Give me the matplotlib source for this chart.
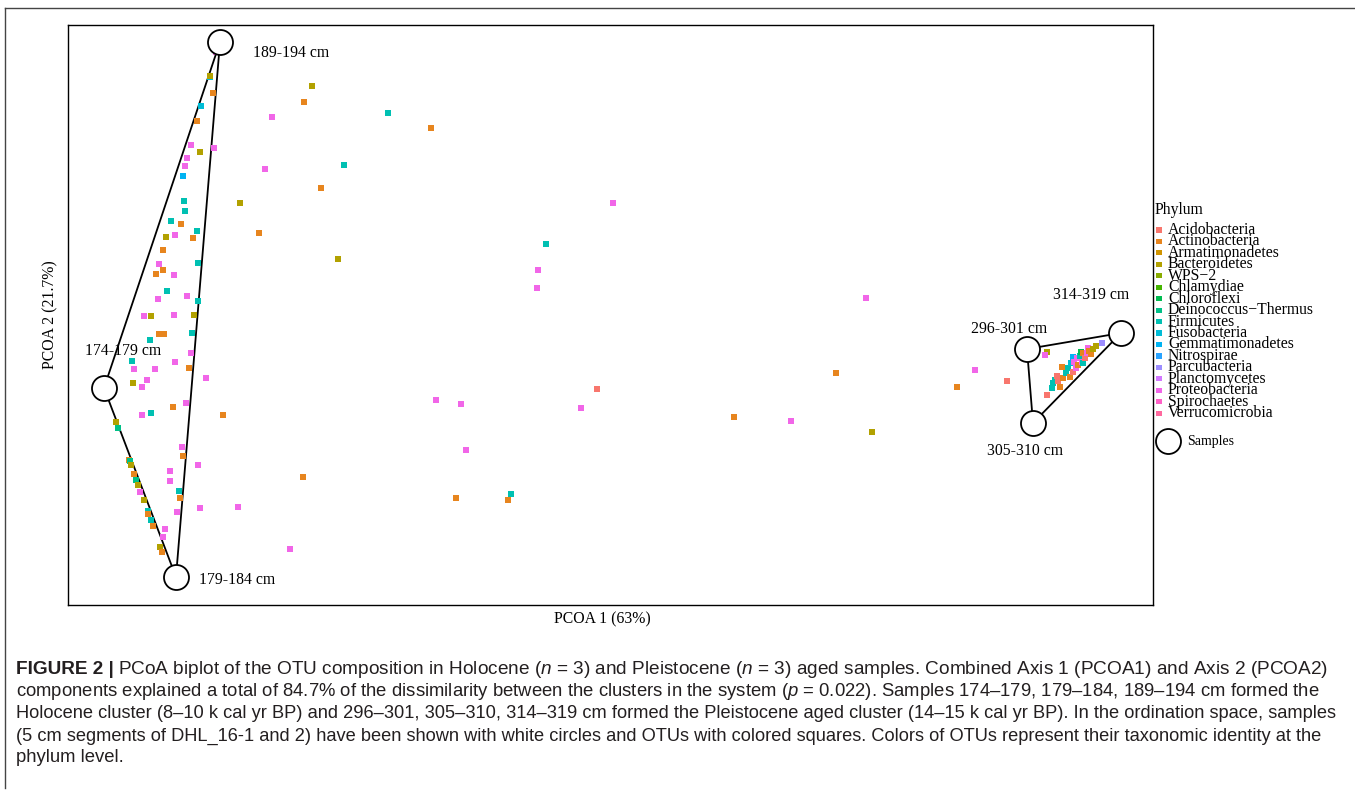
import numpy as np
import matplotlib
matplotlib.use("Agg")
import matplotlib.pyplot as plt
from matplotlib import font_manager
from matplotlib.lines import Line2D

# ---- data (positions, plot pixel units) ----
phyla = ["Acidobacteria", "Actinobacteria", "Armatimonadetes", "Bacteroidetes",
         "WPS\u22122", "Chlamydiae", "Chloroflexi", "Deinococcus\u2212Thermus",
         "Firmicutes", "Fusobacteria", "Gemmatimonadetes", "Nitrospirae",
         "Parcubacteria", "Planctomycetes", "Proteobacteria", "Spirochaetes",
         "Verrucomicrobia"]

otu_x = [210, 216, 210, 213, 201, 197, 191, 214, 200, 187, 185, 183, 184, 185, 171, 181,
         197, 166, 175, 193, 163, 198, 159, 163, 156, 174, 167, 158, 187, 198, 144, 151,
         174, 194, 159, 164, 192, 150, 191, 132, 175, 134, 155, 189, 206, 147, 133, 142,
         186, 173, 151, 142, 223, 116, 118, 182, 183, 198, 129, 130, 131, 134, 136, 138,
         170, 170, 140, 179, 180, 144, 303, 238, 200, 148, 148, 177, 151, 153, 165, 163,
         160, 162, 290,
         312, 304, 272, 344, 265, 321, 240, 259, 338, 388, 431, 613, 546, 538, 537, 866,
         836, 597, 436, 461, 581, 734, 791, 872, 466, 456, 511, 508,
         957, 975, 1007, 1047, 1045, 1102, 1096, 1047,
         1052, 1053, 1055, 1057, 1058, 1060, 1062, 1063, 1066, 1068, 1070, 1071, 1073, 1073,
         1074, 1076, 1077, 1078, 1080, 1081, 1082, 1083, 1083, 1085, 1087, 1088, 1089, 1091,
         1093]
otu_y = [77, 52, 76, 93, 106, 121, 145, 148, 152, 158, 166, 176, 201, 211, 221, 224,
         231, 237, 235, 238, 250, 263, 264, 270, 274, 275, 291, 299, 296, 301, 316, 316,
         315, 315, 334, 334, 333, 340, 353, 361, 362, 369, 369, 368, 378, 380, 383, 387,
         403, 407, 413, 415, 415, 422, 428, 447, 456, 465, 460, 461, 465, 474, 480, 485,
         471, 481, 492, 491, 498, 500, 477, 507, 508, 511, 514, 512, 520, 526, 529, 537,
         547, 552, 549,
         86, 102, 117, 165, 169, 188, 203, 233, 259, 113, 128, 203, 244, 270, 288, 298,
         373, 389, 400, 404, 408, 417, 421, 432, 450, 498, 494, 500,
         387, 370, 381, 352, 355, 343, 346, 395,
         388, 383, 380, 376, 381, 387, 367, 378, 373, 368, 377, 363, 372, 357,
         362, 368, 358, 365, 356, 352, 362, 353, 363, 358, 353, 348, 351, 354,
         349]
otu_phylum = (
    ["Fusobacteria", "Proteobacteria", "Bacteroidetes", "Actinobacteria", "Fusobacteria",
     "Actinobacteria", "Proteobacteria", "Proteobacteria", "Bacteroidetes", "Proteobacteria",
     "Proteobacteria", "Gemmatimonadetes", "Firmicutes", "Firmicutes", "Firmicutes",
     "Actinobacteria", "Firmicutes", "Bacteroidetes", "Proteobacteria", "Actinobacteria",
     "Actinobacteria", "Firmicutes", "Proteobacteria", "Actinobacteria", "Actinobacteria",
     "Proteobacteria", "Firmicutes", "Proteobacteria", "Proteobacteria", "Firmicutes",
     "Proteobacteria", "Bacteroidetes", "Proteobacteria", "Bacteroidetes", "Actinobacteria",
     "Actinobacteria", "Firmicutes", "Firmicutes", "Proteobacteria", "Firmicutes",
     "Proteobacteria", "Proteobacteria", "Proteobacteria", "Actinobacteria", "Proteobacteria",
     "Proteobacteria", "Bacteroidetes", "Proteobacteria", "Proteobacteria", "Actinobacteria",
     "Firmicutes", "Proteobacteria", "Actinobacteria", "Bacteroidetes",
     "Deinococcus\u2212Thermus", "Proteobacteria", "Actinobacteria", "Proteobacteria",
     "Actinobacteria", "Deinococcus\u2212Thermus", "Bacteroidetes", "Actinobacteria",
     "Deinococcus\u2212Thermus", "Bacteroidetes", "Proteobacteria", "Proteobacteria",
     "Proteobacteria", "Firmicutes", "Actinobacteria", "Bacteroidetes", "Actinobacteria",
     "Proteobacteria", "Proteobacteria", "Firmicutes", "Actinobacteria", "Proteobacteria",
     "Firmicutes", "Actinobacteria", "Proteobacteria", "Proteobacteria", "Bacteroidetes",
     "Actinobacteria", "Proteobacteria"]
    + ["Bacteroidetes", "Actinobacteria", "Proteobacteria", "Firmicutes", "Proteobacteria",
       "Actinobacteria", "Bacteroidetes", "Actinobacteria", "Bacteroidetes", "Firmicutes",
       "Actinobacteria", "Proteobacteria", "Firmicutes", "Proteobacteria", "Proteobacteria",
       "Proteobacteria", "Actinobacteria", "Acidobacteria", "Proteobacteria", "Proteobacteria",
       "Proteobacteria", "Actinobacteria", "Proteobacteria", "Bacteroidetes", "Proteobacteria",
       "Actinobacteria", "Firmicutes", "Actinobacteria"]
    + ["Actinobacteria", "Proteobacteria", "Acidobacteria", "Bacteroidetes", "Proteobacteria",
       "Parcubacteria", "Bacteroidetes", "Acidobacteria"]
    + ["Firmicutes", "Firmicutes", "Firmicutes", "Acidobacteria", "Acidobacteria",
       "Actinobacteria", "Actinobacteria", "Actinobacteria", "Firmicutes", "Firmicutes",
       "Actinobacteria", "Fusobacteria", "Acidobacteria", "Gemmatimonadetes",
       "Proteobacteria", "Proteobacteria", "Proteobacteria", "Actinobacteria", "Firmicutes",
       "Chloroflexi", "Proteobacteria", "Actinobacteria", "Firmicutes", "Acidobacteria",
       "Proteobacteria", "Proteobacteria", "Actinobacteria", "Actinobacteria",
       "Bacteroidetes"]
)

sample_names = ["189-194 cm", "174-179 cm", "179-184 cm",
                "296-301 cm", "305-310 cm", "314-319 cm"]
sample_x = [220, 104, 176, 1027, 1033, 1121]
sample_y = [42, 388, 577, 349, 423, 333]
label_x = [291, 123, 237, 1009, 1025, 1091]
label_y = [53, 351, 580, 329, 451, 295]
clusters = [[0, 1, 2], [3, 4, 5]]

caption = [
    r"PCoA biplot of the OTU composition in Holocene ($n$ = 3) and Pleistocene ($n$ = 3) aged samples. Combined Axis 1 (PCOA1) and Axis 2 (PCOA2)",
    r"components explained a total of 84.7% of the dissimilarity between the clusters in the system ($p$ = 0.022). Samples 174–179, 179–184, 189–194 cm formed the",
    "Holocene cluster (8–10 k cal yr BP) and 296–301, 305–310, 314–319 cm formed the Pleistocene aged cluster (14–15 k cal yr BP). In the ordination space, samples",
    "(5 cm segments of DHL_16-1 and 2) have been shown with white circles and OTUs with colored squares. Colors of OTUs represent their taxonomic identity at the",
    "phylum level.",
]
cap_right = [1325, 1322, 1338, 1326, None]


def hue_pal(n, c=100.0, l=65.0):
    # ggplot2 default discrete palette (HCL hues)
    hues = np.linspace(15, 375, n + 1)[:-1]
    xn, yn, zn = 95.047, 100.0, 108.883
    un = 4 * xn / (xn + 15 * yn + 3 * zn)
    vn = 9 * yn / (xn + 15 * yn + 3 * zn)
    m = np.array([[3.240479, -1.537150, -0.498535],
                  [-0.969256, 1.875992, 0.041556],
                  [0.055648, -0.204043, 1.057311]])
    out = []
    for h in hues:
        u = c * np.cos(np.radians(h))
        v = c * np.sin(np.radians(h))
        Y = yn * ((l + 16) / 116) ** 3
        up = u / (13 * l) + un
        vp = v / (13 * l) + vn
        X = 9 * Y * up / (4 * vp)
        Z = -X / 3 - 5 * Y + 3 * Y / vp
        rgb = m @ (np.array([X, Y, Z]) / 100)
        rgb = np.where(rgb <= 0.0031308, 12.92 * rgb, 1.055 * np.abs(rgb) ** (1 / 2.4) - 0.055)
        out.append(tuple(np.clip(rgb, 0, 1)))
    return out


colors = dict(zip(phyla, hue_pal(len(phyla))))

names = {f.name for f in font_manager.fontManager.ttflist}
serif = "Liberation Serif"
cap_font = "Liberation Sans Narrow" if "Liberation Sans Narrow" in names else "Liberation Sans"
plt.rcParams["mathtext.fontset"] = "custom"
plt.rcParams["mathtext.rm"] = cap_font
plt.rcParams["mathtext.it"] = cap_font + ":italic"

W, H = 1355, 793
L, R, T, B = 68, 1153, 25, 605
fig = plt.figure(figsize=(W / 100, H / 100), dpi=100)

# main plot panel
ax = fig.add_axes([L / W, 1 - B / H, (R - L) / W, (B - T) / H])
ax.set_xlim(L, R)
ax.set_ylim(B, T)
ax.set_xticks([])
ax.set_yticks([])
for s in ax.spines.values():
    s.set_linewidth(1.0)
    s.set_color("black")

for grp in clusters:
    idx = grp + [grp[0]]
    ax.plot([sample_x[i] for i in idx], [sample_y[i] for i in idx],
            color="black", lw=1.3, zorder=2)

ax.scatter(otu_x, otu_y, c=[colors[p] for p in otu_phylum], marker="s",
           s=22, linewidths=0, zorder=3)

ax.plot(sample_x, sample_y, "o", ms=18, mfc="white", mec="black", mew=1.3,
        ls="none", zorder=4)
for name, lx, ly in zip(sample_names, label_x, label_y):
    ax.text(lx, ly, name, ha="center", va="center", fontsize=11.3,
            family=serif, zorder=5)

# overlay in figure pixels for labels, legend, caption and frame
ov = fig.add_axes([0, 0, 1, 1], zorder=-1)
ov.set_xlim(0, W)
ov.set_ylim(H, 0)
ov.axis("off")

ov.add_line(Line2D([5, W], [8, 8], color="#444444", lw=1.0))
ov.add_line(Line2D([5, 5], [8, 788], color="#444444", lw=1.0))

ov.text(602, 619, "PCOA 1 (63%)", ha="center", va="center", fontsize=11.3, family=serif)
ov.text(50, 315, "PCOA 2 (21.7%)", ha="center", va="center", rotation=90,
        fontsize=11.3, family=serif)

# legend
ov.text(1155, 210, "Phylum", ha="left", va="center", fontsize=11.3, family=serif)
leg_y = 230 + 11.45 * np.arange(len(phyla))
ov.scatter([1159] * len(phyla), leg_y, c=[colors[p] for p in phyla], marker="s",
           s=14, linewidths=0)
for p, yy in zip(phyla, leg_y):
    ov.text(1168, yy, p, ha="left", va="center", fontsize=11.3, family=serif)
ov.plot([1168], [441], "o", ms=18, mfc="white", mec="black", mew=1.3)
ov.text(1187, 442, "Samples", ha="left", va="center", fontsize=10, family=serif)

# caption, each line sized to the width it has in the reference
renderer = fig.canvas.get_renderer()
cap_y = [669, 691, 714, 736, 758]
cap_x = 16


def draw_line(i, size):
    items = []
    x0 = cap_x
    if i == 0:
        head = ov.text(x0, cap_y[0], "FIGURE 2 |", ha="left", va="center", fontsize=size,
                       family=cap_font, weight="bold", color="#231f20")
        items.append(head)
        x0 += head.get_window_extent(renderer).width + size * 0.3
    t = ov.text(x0, cap_y[i], caption[i], ha="left", va="center", fontsize=size,
                family=cap_font, color="#231f20")
    items.append(t)
    return items, t.get_window_extent(renderer).x1


sizes = []
for i in range(len(caption)):
    if cap_right[i] is None:
        size = float(np.mean(sizes))
    else:
        items, right = draw_line(i, 12)
        for it in items:
            it.remove()
        size = 12 * (cap_right[i] - cap_x) / (right - cap_x)
        sizes.append(size)
    draw_line(i, size)

fig.savefig("out.png", dpi=100)
